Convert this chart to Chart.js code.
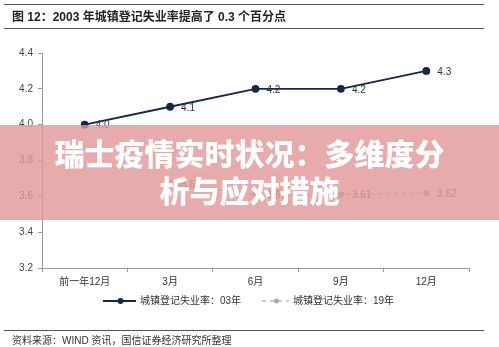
<!DOCTYPE html>
<html>
<head>
<meta charset="utf-8">
<script src="https://cdn.jsdelivr.net/npm/chart.js@4"></script>
<style>
  body { margin: 0; background: #fff; font-family: 'Liberation Sans', 'Noto Sans CJK SC', sans-serif; }
  #wrap { position: relative; width: 499px; height: 347px; overflow: hidden; }
  #chart { position: absolute; left: 0; top: 0; }
  .rule { position: absolute; left: 4px; width: 480px; height: 0; border-top: 1px solid #555; }
  #title { position: absolute; left: 12px; top: 7px; font-size: 12px; font-weight: bold; color: #222; white-space: nowrap; }
  #source { position: absolute; left: 12px; top: 332px; font-size: 10px; color: #333; white-space: nowrap; }
  #banner { position: absolute; left: 0; top: 125px; width: 499px; height: 95px; background: rgba(226,150,150,0.8);
            color: #fff; font-family: 'Noto Sans CJK SC', sans-serif; font-weight: 900; font-size: 30px;
            line-height: 37px; text-align: center; padding-top: 9px; box-sizing: border-box; }
</style>
</head>
<body>
<div id="wrap">
  <canvas id="chart" width="499" height="347"></canvas>
  <div class="rule" style="top:4px"></div>
  <div id="title">图 12：2003 年城镇登记失业率提高了 0.3 个百分点</div>
  <div class="rule" style="top:28px"></div>
  <div class="rule" style="top:330px"></div>
  <div id="source">资料来源：WIND 资讯，国信证券经济研究所整理</div>
  <div id="banner">瑞士疫情实时状况：多维度分<br>析与应对措施</div>
</div>
<script>
// chart data
const months = ['前一年12月', '3月', '6月', '9月', '12月'];
const rate03 = [4.0, 4.1, 4.2, 4.2, 4.3];
const rate19 = [null, 3.67, 3.61, 3.61, 3.62];
const seriesNames = ['城镇登记失业率：03年', '城镇登记失业率：19年'];
const yTicks = [3.2, 3.4, 3.6, 3.8, 4.0, 4.2, 4.4];

const FONT = "'Liberation Sans', 'Noto Sans CJK SC', sans-serif";
const NAVY = '#13284a';
const GREY = '#a3aab8';

// labels to the right of each point
const pointLabels = {
    id: 'pointLabels',
    afterDatasetsDraw(chart) {
        const ctx = chart.ctx;
        ctx.save();
        ctx.font = '10px ' + FONT;
        ctx.textBaseline = 'middle';
        chart.data.datasets.forEach((ds, i) => {
            ctx.fillStyle = i === 0 ? '#333' : '#555';
            chart.getDatasetMeta(i).data.forEach((pt, j) => {
                const v = ds.data[j];
                if (v === null) return;
                const txt = (i === 0 ? v.toFixed(1) : String(v));
                ctx.fillText(txt, pt.x + 11, pt.y + 1);
            });
        });
        ctx.restore();
    }
};

// legend: line with dot in the middle, then the name
const customLegend = {
    id: 'customLegend',
    afterDraw(chart) {
        const ctx = chart.ctx;
        const y = 301;
        const items = [{ x: 103, dash: [], color: NAVY, w: 1.8, r: 3 }, { x: 262, dash: [4, 4], color: GREY, w: 1.2, r: 2.5 }];
        ctx.save();
        items.forEach((it, i) => {
            const len = i === 0 ? 33 : 27;
            ctx.strokeStyle = it.color;
            ctx.lineWidth = it.w;
            ctx.setLineDash(it.dash);
            ctx.beginPath();
            ctx.moveTo(it.x, y);
            ctx.lineTo(it.x + len, y);
            ctx.stroke();
            ctx.setLineDash([]);
            ctx.fillStyle = it.color;
            ctx.beginPath();
            ctx.arc(it.x + len / 2 + 1, y, it.r, 0, Math.PI * 2);
            ctx.fill();
            ctx.fillStyle = '#333';
            ctx.font = '10px ' + FONT;
            ctx.textBaseline = 'middle';
            ctx.fillText(seriesNames[i], it.x + len + 4, y);
        });
        ctx.restore();
    }
};

new Chart(document.getElementById('chart').getContext('2d'), {
    type: 'line',
    data: {
        labels: months,
        datasets: [
            {
                label: seriesNames[0],
                data: rate03,
                borderColor: NAVY,
                backgroundColor: NAVY,
                borderWidth: 1.8,
                pointRadius: 3,
                pointHoverRadius: 3,
                tension: 0
            },
            {
                label: seriesNames[1],
                data: rate19,
                borderColor: GREY,
                backgroundColor: GREY,
                borderWidth: 1.2,
                borderDash: [4, 4],
                pointRadius: 2.5,
                pointHoverRadius: 2.5,
                tension: 0
            }
        ]
    },
    options: {
        responsive: false,
        animation: false,
        events: [],
        layout: { padding: { top: 53, right: 30, left: 0, bottom: 0 } },
        plugins: { legend: { display: false }, tooltip: { enabled: false } },
        scales: {
            x: {
                offset: true,
                grid: { offset: true, drawOnChartArea: false, tickLength: 4, color: '#999' },
                border: { color: '#999' },
                ticks: { color: '#333', font: { size: 10, family: FONT }, padding: 4, maxRotation: 0 },
                afterFit: s => { s.height = 79; }
            },
            y: {
                min: yTicks[0],
                max: yTicks[yTicks.length - 1],
                afterBuildTicks: s => { s.ticks = yTicks.map(v => ({ value: v })); },
                grid: { drawOnChartArea: false, tickLength: 4, color: '#999' },
                border: { color: '#999' },
                ticks: { color: '#444', font: { size: 10, family: FONT }, padding: 5, callback: v => v.toFixed(1) },
                afterFit: s => { s.width = 42; }
            }
        }
    },
    plugins: [pointLabels, customLegend]
});
</script>
</body>
</html>
